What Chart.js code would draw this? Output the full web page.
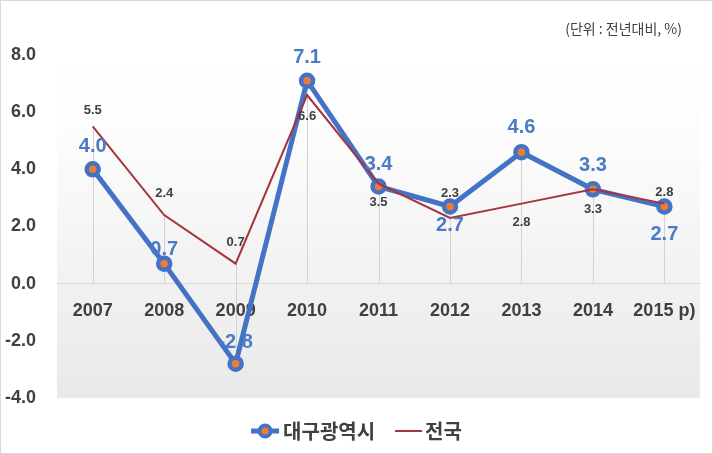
<!DOCTYPE html>
<html><head><meta charset="utf-8">
<script src="https://cdn.jsdelivr.net/npm/chart.js@4"></script>
<style>html,body{margin:0;padding:0;background:#fff}canvas{display:block}</style>
</head><body>
<canvas id="c" width="713" height="454"></canvas>
<script>
const categories = ['2007','2008','2009','2010','2011','2012','2013','2014','2015 p)'];
const daegu = [4.0, 0.7, -2.8, 7.1, 3.4, 2.7, 4.6, 3.3, 2.7];
const national = [5.5, 2.4, 0.7, 6.6, 3.5, 2.3, 2.8, 3.3, 2.8];
const yTicks = [-4, -2, 0, 2, 4, 6, 8];
const seriesNames = ['대구광역시', '전국'];
const unitText = '(단위 : 전년대비, %)';

// label vertical offsets in px (negative = above the point)
const daeguLabelOffsets = [-23, -14, -21, -23, -22, 19, -25, -24, 28];
const nationalLabelOffsets = [-16, -22, -21, 21, 19, -25, 19, 20, -11];

const NUM = '"Liberation Sans", "Noto Sans CJK KR", sans-serif';
const KR = '"Noto Sans CJK KR", "Liberation Sans", sans-serif';
const BLUE = '#4472C4';
const BLUE_TXT = '#4A7BC4';
const ORANGE = '#ED7D31';
const RED = '#A3353D';
const DARK = '#404040';

const custom = {
  id: 'custom',
  beforeDraw(chart) {
    const {ctx, chartArea: a} = chart;
    const x = chart.scales.x, y = chart.scales.y;
    ctx.save();
    const g = ctx.createLinearGradient(0, a.top, 0, a.bottom);
    g.addColorStop(0, '#ffffff');
    g.addColorStop(0.2, '#fdfdfd');
    g.addColorStop(1, '#e9e9e9');
    ctx.fillStyle = g;
    ctx.fillRect(a.left, a.top, a.right - a.left, a.bottom - a.top);
    // drop lines
    ctx.strokeStyle = '#d2d2d2';
    ctx.lineWidth = 1;
    categories.forEach((c, i) => {
      const vals = chart.data.datasets.map(d => d.data[i]);
      const hi = Math.max(...vals, 0), lo = Math.min(...vals, 0);
      const px = Math.round(x.getPixelForValue(i)) + 0.5;
      ctx.beginPath();
      ctx.moveTo(px, y.getPixelForValue(hi));
      ctx.lineTo(px, y.getPixelForValue(lo));
      ctx.stroke();
    });
    ctx.restore();
  },
  afterDatasetsDraw(chart) {
    const {ctx} = chart;
    ctx.save();
    ctx.textAlign = 'center';
    ctx.textBaseline = 'middle';
    const specs = [
      {ds: 1, offs: nationalLabelOffsets, font: 'bold 13px ' + NUM, color: DARK},
      {ds: 0, offs: daeguLabelOffsets, font: 'bold 20px ' + NUM, color: BLUE_TXT}
    ];
    specs.forEach(s => {
      const meta = chart.getDatasetMeta(s.ds);
      const data = chart.data.datasets[s.ds].data;
      ctx.font = s.font;
      ctx.fillStyle = s.color;
      meta.data.forEach((pt, i) => {
        ctx.fillText(data[i].toFixed(1), pt.x, pt.y + s.offs[i]);
      });
    });
    ctx.restore();
  },
  afterDraw(chart) {
    const {ctx} = chart;
    ctx.save();
    // unit text
    ctx.font = '14px ' + KR;
    ctx.fillStyle = DARK;
    ctx.textAlign = 'right';
    ctx.textBaseline = 'middle';
    ctx.fillText(unitText, 682, 29);
    // legend
    ctx.font = 'bold 20px ' + KR;
    ctx.textAlign = 'left';
    const ly = 431;
    const w0 = ctx.measureText(seriesNames[0]).width;
    const w1 = ctx.measureText(seriesNames[1]).width;
    const total = 28 + 4 + w0 + 20 + 27 + 3 + w1;
    let lx = chart.width / 2 - total / 2;
    ctx.strokeStyle = BLUE; ctx.lineWidth = 5;
    ctx.beginPath(); ctx.moveTo(lx, ly); ctx.lineTo(lx + 28, ly); ctx.stroke();
    ctx.beginPath(); ctx.arc(lx + 14, ly, 5.5, 0, Math.PI * 2);
    ctx.fillStyle = ORANGE; ctx.fill(); ctx.lineWidth = 4; ctx.stroke();
    ctx.fillStyle = DARK;
    ctx.fillText(seriesNames[0], lx + 32, ly);
    lx += 32 + w0 + 20;
    ctx.strokeStyle = RED; ctx.lineWidth = 2;
    ctx.beginPath(); ctx.moveTo(lx, ly); ctx.lineTo(lx + 27, ly); ctx.stroke();
    ctx.fillText(seriesNames[1], lx + 30, ly);
    // frame
    ctx.strokeStyle = '#d9d9d9'; ctx.lineWidth = 1;
    ctx.strokeRect(0.5, 0.5, chart.width - 1, chart.height - 1);
    ctx.restore();
  }
};

new Chart(document.getElementById('c'), {
  type: 'line',
  data: {
    labels: categories,
    datasets: [
      {
        label: seriesNames[0], data: daegu, order: 2,
        borderColor: BLUE, borderWidth: 5,
        pointRadius: 6, pointBorderWidth: 4.5,
        pointBackgroundColor: ORANGE, pointBorderColor: BLUE,
        pointHoverRadius: 6, tension: 0, clip: false
      },
      {
        label: seriesNames[1], data: national, order: 1,
        borderColor: RED, borderWidth: 2, pointRadius: 0,
        pointHoverRadius: 0, tension: 0, clip: false
      }
    ]
  },
  options: {
    responsive: false,
    animation: false,
    devicePixelRatio: 1,
    layout: {padding: {top: 55, right: 11, bottom: 56, left: 0}},
    plugins: {legend: {display: false}, tooltip: {enabled: false}},
    events: [],
    scales: {
      x: {
        type: 'category', position: {y: 0}, offset: true,
        grid: {display: false, drawTicks: false},
        border: {display: true, color: '#d9d9d9', width: 1},
        ticks: {font: {family: NUM, size: 18, weight: 'bold'}, color: DARK, padding: 17, maxRotation: 0, autoSkip: false}
      },
      y: {
        min: -4, max: 8,
        afterBuildTicks: s => { s.ticks = yTicks.map(v => ({value: v})); },
        ticks: {callback: v => Number(v).toFixed(1), font: {family: NUM, size: 18, weight: 'bold'}, color: DARK, padding: 21},
        grid: {display: false, drawTicks: false},
        border: {display: false},
        afterFit(s) { s.width = 57; }
      }
    }
  },
  plugins: [custom]
});
</script>
</body></html>
